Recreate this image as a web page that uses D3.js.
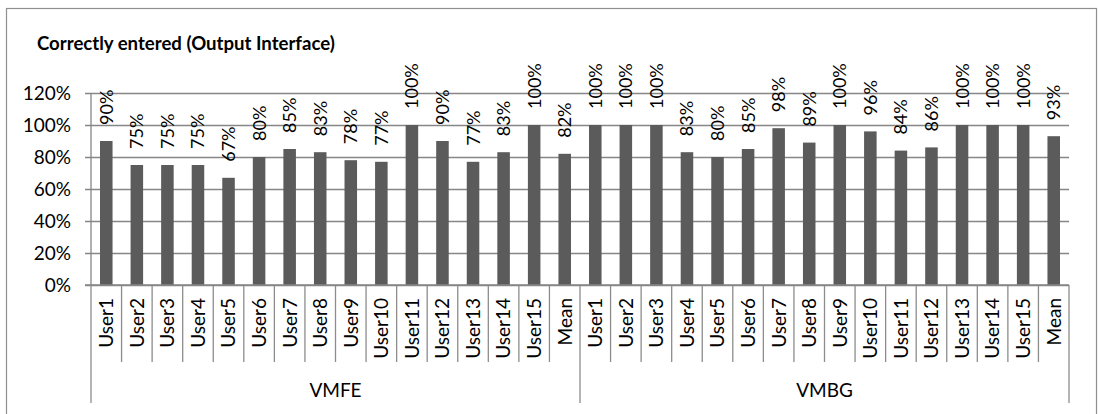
<!DOCTYPE html>
<html>
<head>
<meta charset="utf-8">
<script src="https://cdn.jsdelivr.net/npm/d3@7"></script>
<style>
  html, body { margin: 0; padding: 0; background: #fff; }
  svg { display: block; }
  text { font-family: Lato, "Open Sans", sans-serif; fill: #000; }
</style>
</head>
<body>
<svg id="chart" width="1098" height="414"></svg>
<script>
// Share of items entered correctly per user, for each interface group
const groups = ["VMFE", "VMBG"];
const users = ["User1","User2","User3","User4","User5","User6","User7","User8",
               "User9","User10","User11","User12","User13","User14","User15","Mean"];
const vmfeValues = [90, 75, 75, 75, 67, 80, 85, 83, 78, 77, 100, 90, 77, 83, 100, 82];
const vmbgValues = [100, 100, 100, 83, 80, 85, 98, 89, 100, 96, 84, 86, 100, 100, 100, 93];
const yTicks = [0, 20, 40, 60, 80, 100, 120];
const titleText = "Correctly entered (Output Interface)";

const seriesByGroup = { VMFE: vmfeValues, VMBG: vmbgValues };
const rows = groups.flatMap(g => users.map((u, i) => ({
  group: g, user: u, key: g + "|" + u, value: seriesByGroup[g][i]
})));

const svg = d3.select("#chart");
const plotLeft = 91, plotRight = 1069, plotTop = 93, plotBottom = 285;
const catLineEnd = 362, groupLineEnd = 403;
const gridColor = "#868686", lineColor = "#8c8c8c", barColor = "#5b5b5b";

// Outer chart frame
svg.append("rect")
  .attr("x", 6.5).attr("y", 8.5).attr("width", 1090).attr("height", 420)
  .attr("fill", "none").attr("stroke", "#8f8f8f").attr("stroke-width", 1.2);

// Title
svg.append("text")
  .attr("x", 37).attr("y", 50)
  .style("font-weight", "bold").style("font-size", "18.6px")
  .text(titleText);

const x = d3.scaleBand().domain(rows.map(d => d.key)).range([plotLeft, plotRight]).paddingInner(0).paddingOuter(0);
const y = d3.scaleLinear().domain([0, 120]).range([plotBottom, plotTop]);
const barW = x.bandwidth() * 0.41;

// Horizontal gridlines with outward tick marks
const yAxis = d3.axisLeft(y).tickValues(yTicks).tickFormat(d => d + "%")
  .tickSize(-(plotRight - plotLeft)).tickSizeOuter(0).tickPadding(20);
const gy = svg.append("g").attr("transform", `translate(${plotLeft},0)`).call(yAxis);
gy.select(".domain").remove();
gy.selectAll(".tick line").attr("stroke", gridColor).attr("stroke-width", 1.3)
  .attr("x1", -6);
gy.selectAll(".tick text").style("font-size", "19px").attr("fill", "#000")
  .style("font-family", "Lato, 'Open Sans', sans-serif");

// Vertical axis line
svg.append("line").attr("x1", plotLeft).attr("x2", plotLeft).attr("y1", plotTop).attr("y2", plotBottom)
  .attr("stroke", gridColor).attr("stroke-width", 1.3);

// Bars
svg.append("g").selectAll("rect").data(rows).join("rect")
  .attr("x", d => x(d.key) + (x.bandwidth() - barW) / 2)
  .attr("width", barW)
  .attr("y", d => y(d.value))
  .attr("height", d => y(0) - y(d.value))
  .attr("fill", barColor);

// Value labels, rotated, above each bar
svg.append("g").selectAll("text").data(rows).join("text")
  .attr("transform", d => `translate(${x(d.key) + x.bandwidth() / 2},${y(d.value) - 16}) rotate(-90)`)
  .attr("dy", "0.36em")
  .attr("text-anchor", "start")
  .style("font-size", "18px")
  .text(d => d.value + "%");

// Category separators
const bounds = d3.range(rows.length + 1).map(i => plotLeft + i * x.step());
svg.append("g").selectAll("line").data(bounds).join("line")
  .attr("x1", d => d).attr("x2", d => d)
  .attr("y1", plotBottom)
  .attr("y2", (d, i) => (i % users.length === 0) ? groupLineEnd : catLineEnd)
  .attr("stroke", lineColor).attr("stroke-width", 1.3);

// Category labels
svg.append("g").selectAll("text").data(rows).join("text")
  .attr("transform", d => `translate(${x(d.key) + x.bandwidth() / 2},298) rotate(-90)`)
  .attr("dy", "0.36em")
  .attr("text-anchor", "end")
  .style("font-size", "19px")
  .text(d => d.user);

// Group labels
svg.append("g").selectAll("text").data(groups).join("text")
  .attr("x", (g, i) => plotLeft + (i + 0.5) * users.length * x.step())
  .attr("y", 397)
  .attr("text-anchor", "middle")
  .style("font-size", "19px")
  .text(g => g);

// Baseline
svg.append("line").attr("x1", plotLeft - 6).attr("x2", plotRight).attr("y1", plotBottom).attr("y2", plotBottom)
  .attr("stroke", gridColor).attr("stroke-width", 1.3);
</script>
</body>
</html>
